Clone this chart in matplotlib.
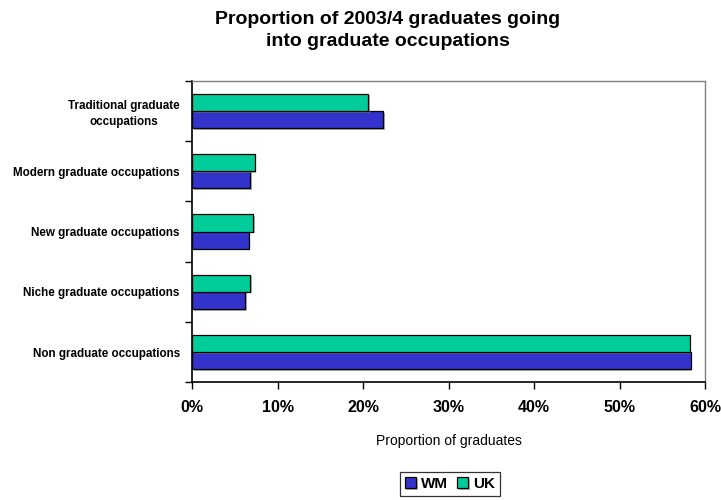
import matplotlib
matplotlib.use("Agg")
import matplotlib.pyplot as plt
import matplotlib.patheffects as pe
import numpy as np

categories = [
    "Traditional graduate\noccupations",
    "Modern graduate occupations",
    "New graduate occupations",
    "Niche graduate occupations",
    "Non graduate occupations",
]
wm_values = [22.3, 6.8, 6.6, 6.2, 58.3]
uk_values = [20.6, 7.3, 7.1, 6.8, 58.2]
x_ticks = [0, 10, 20, 30, 40, 50, 60]

plt.rcParams["font.family"] = ["Liberation Sans", "DejaVu Sans"]

fig = plt.figure(figsize=(7.21, 5.0), dpi=100)
ax = fig.add_axes([0.2667, 0.2354, 0.7113, 0.6032])

n = len(categories)
pos = np.arange(n)[::-1].astype(float)  # first category at the top
h = 0.285
shadow = [pe.SimplePatchShadow(offset=(1.2, -1.2), shadow_rgbFace="#808080", alpha=0.6),
          pe.Normal()]
ax.barh(pos - h / 2, wm_values, height=h, color="#3333CC",
        edgecolor="black", linewidth=0.9, label="WM", zorder=3,
        path_effects=shadow)
ax.barh(pos + h / 2, uk_values, height=h, color="#00CC99",
        edgecolor="black", linewidth=0.9, label="UK", zorder=3,
        path_effects=shadow)

ax.set_xlim(0, 60)
ax.set_ylim(-0.5, n - 0.5)
ax.set_xticks(x_ticks)
ax.set_xticklabels([f"{v}%" for v in x_ticks], fontsize=11.5, fontweight="bold")
ax.set_yticks(pos)
ax.set_yticklabels(categories, fontsize=8.4, fontweight="bold")
for lbl in ax.get_yticklabels():
    lbl.set_multialignment("center")
    lbl.set_linespacing(1.45)
ax.set_yticks(np.arange(-0.5, n, 1.0), minor=True)
ax.tick_params(axis="y", which="major", length=0, pad=9)
ax.tick_params(axis="y", which="minor", length=5, width=1, direction="out")
ax.tick_params(axis="x", length=5, width=1, direction="out", pad=8)

for side in ("left", "bottom"):
    ax.spines[side].set_color("black")
    ax.spines[side].set_linewidth(1.2)
for side in ("top", "right"):
    ax.spines[side].set_color("#808080")
    ax.spines[side].set_linewidth(1.0)

ax.set_xlabel("Proportion of graduates", fontsize=10, labelpad=13.5)

fig.suptitle("Proportion of 2003/4 graduates going\ninto graduate occupations",
             x=0.538, y=0.978, fontsize=14, fontweight="bold", linespacing=1.38)

leg = fig.legend(loc="center", bbox_to_anchor=(0.624, 0.032), ncol=2,
                 frameon=True, fancybox=False, edgecolor="black",
                 prop={"weight": "bold", "size": 11},
                 handlelength=0.75, handleheight=0.75, handletextpad=0.3,
                 columnspacing=0.6, borderpad=0.3)
leg.get_frame().set_linewidth(0.9)

fig.savefig("out.png", dpi=100)
